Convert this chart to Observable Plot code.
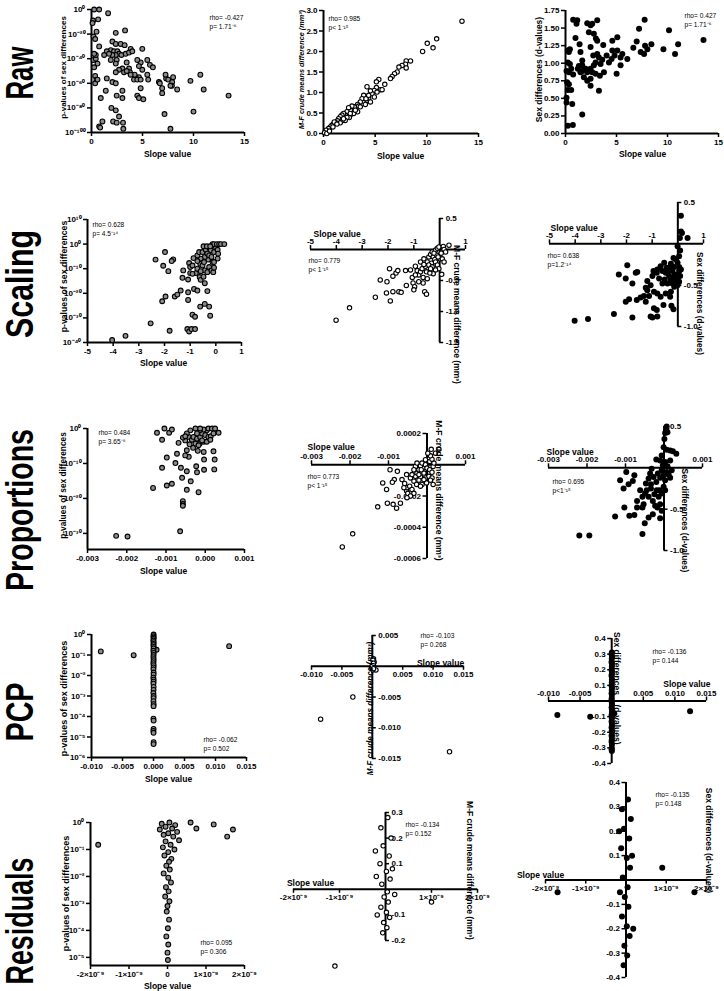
<!DOCTYPE html>
<html><head><meta charset="utf-8">
<script src="https://cdn.jsdelivr.net/npm/d3@7"></script>
<script src="https://cdn.jsdelivr.net/npm/@observablehq/plot@0.6"></script>
<style>
body{margin:0;background:#fff}
#root{position:relative;width:724px;height:991px;overflow:hidden;background:#fff}
#root svg{position:absolute}
</style></head><body><div id="root"></div>
<script>
// ---------------- DATA ----------------
const rowNames = ["Raw","Scaling","Proportions","PCP","Residuals"];
const stats = {
  rawP:["rho= -0.427","p= 1.71⁻⁶"], rawMF:["rho= 0.985","p< 1⁻¹⁵"], rawD:["rho= 0.427","p= 1.71⁻⁶"],
  scP:["rho= 0.628","p= 4.5⁻¹⁴"], scMF:["rho= 0.779","p< 1⁻¹⁵"], scD:["rho= 0.638","p=1.2⁻¹⁴"],
  prP:["rho= 0.484","p= 3.65⁻⁸"], prMF:["rho= 0.773","p< 1⁻¹⁵"], prD:["rho= 0.695","p<1⁻¹⁵"],
  pcP:["rho= -0.062","p= 0.502"], pcMF:["rho= -0.103","p= 0.268"], pcD:["rho= -0.136","p= 0.144"],
  reP:["rho= 0.095","p= 0.306"], reMF:["rho= -0.134","p= 0.152"], reD:["rho= -0.135","p= 0.148"]
};
const ticksSlopeRaw = [0,5,10,15], labSlopeRaw = ["0","5","10","15"];
const ticksPRaw = [1e-100,1e-80,1e-60,1e-40,1e-20,1], labPRaw = ["10⁻¹⁰⁰","10⁻⁸⁰","10⁻⁶⁰","10⁻⁴⁰","10⁻²⁰","10⁰"];
const ticksMFRaw = [0,0.5,1,1.5,2,2.5,3], labMFRaw = ["0.0","0.5","1.0","1.5","2.0","2.5","3.0"];
const ticksDRaw = [0,0.25,0.5,0.75,1,1.25,1.5,1.75], labDRaw = ["0.00","0.25","0.50","0.75","1.00","1.25","1.50","1.75"];
const ticksSlopeSc = [-5,-4,-3,-2,-1,0,1], labSlopeSc = ["-5","-4","-3","-2","-1","0","1"];
const ticksSlopeScX = [-5,-4,-3,-2,-1,1], labSlopeScX = ["-5","-4","-3","-2","-1","1"];
const ticksPSc = [1e-40,1e-30,1e-20,1e-10,1,1e10], labPSc = ["10⁻⁴⁰","10⁻³⁰","10⁻²⁰","10⁻¹⁰","10⁰","10¹⁰"];
const ticksMFSc = [0.5,-0.5,-1,-1.5], labMFSc = ["0.5","-0.5","-1.0","-1.5"];
const ticksDSc = [0.5,-0.5,-1], labDSc = ["0.5","-0.5","-1.0"];
const ticksSlopePr = [-0.003,-0.002,-0.001,0,0.001], labSlopePr = ["-0.003","-0.002","-0.001","0.000","0.001"];
const ticksSlopePrX = [-0.003,-0.002,-0.001,0.001], labSlopePrX = ["-0.003","-0.002","-0.001","0.001"];
const ticksPPr = [1e-30,1e-20,1e-10,1], labPPr = ["10⁻³⁰","10⁻²⁰","10⁻¹⁰","10⁰"];
const ticksMFPr = [0.0002,-0.0002,-0.0004,-0.0006], labMFPr = ["0.0002","-0.0002","-0.0004","-0.0006"];
const ticksDPr = [0.5,-0.5,-1], labDPr = ["0.5","-0.5","-1.0"];
const ticksSlopePc = [-0.010,-0.005,0,0.005,0.010,0.015], labSlopePc = ["-0.010","-0.005","0.000","0.005","0.010","0.015"];
const ticksSlopePcX = [-0.010,-0.005,0.005,0.010,0.015], labSlopePcX = ["-0.010","-0.005","0.005","0.010","0.015"];
const ticksPPc = [1e-6,1e-5,1e-4,1e-3,1e-2,1e-1,1], labPPc = ["10⁻⁶","10⁻⁵","10⁻⁴","10⁻³","10⁻²","10⁻¹","10⁰"];
const ticksMFPc = [0.005,-0.005,-0.010,-0.015], labMFPc = ["0.005","-0.005","-0.010","-0.015"];
const ticksDPc = [0.4,0.3,0.2,0.1,-0.1,-0.2,-0.3,-0.4], labDPc = ["0.4","0.3","0.2","0.1","-0.1","-0.2","-0.3","-0.4"];
const ticksSlopeRe = [-2e-9,-1e-9,0,1e-9,2e-9], labSlopeRe = ["-2×10⁻⁹","-1×10⁻⁹","0","1×10⁻⁹","2×10⁻⁹"];
const ticksSlopeReX = [-2e-9,-1e-9,1e-9,2e-9], labSlopeReX = ["-2×10⁻⁹","-1×10⁻⁹","1×10⁻⁹","2×10⁻⁹"];
const ticksPRe = [1e-5,1e-4,1e-3,1e-2,1e-1,1], labPRe = ["10⁻⁵","10⁻⁴","10⁻³","10⁻²","10⁻¹","10⁰"];
const ticksMFRe = [0.3,0.2,0.1,-0.1,-0.2], labMFRe = ["0.3","0.2","0.1","-0.1","-0.2"];
const ticksDRe = [0.4,0.3,0.2,0.1,-0.1,-0.2,-0.3,-0.4], labDRe = ["0.4","0.3","0.2","0.1","-0.1","-0.2","-0.3","-0.4"];

// [slope, value] pairs
const rawP = [[0.26,1],[0.75,1],[1.63,1e-3],[0.16,1e-9],[0.1,1e-11],[0.65,1e-8],[0.49,1e-18],[0.2,1e-22],[0.36,1e-24],[0.75,1e-30],[2.38,1e-19],[3.29,1e-17],[2.05,1e-26],[2.38,1e-28],[2.86,1e-28],[3.25,1e-29],[3.84,1e-32],[1.89,1e-33],[1.5,1e-34],[2.21,1e-34],[2.54,1e-34],[2.7,1e-36],[2.93,1e-37],[2.38,1e-37],[2.05,1e-37],[1.72,1e-36],[1.24,1e-37],[1.89,1e-41],[2.47,1e-41],[3.35,1e-36],[3.68,1e-35],[4.0,1e-34],[4.98,1e-32],[5.47,1e-41],[5.73,1e-45],[6.02,1e-47],[4.82,1e-43],[4.49,1e-41],[3.45,1e-43],[3.03,1e-48],[2.7,1e-49],[2.38,1e-51],[3.19,1e-51],[3.68,1e-48],[4.65,1e-46],[4.98,1e-49],[4.65,1e-55],[4.33,1e-55],[4.17,1e-57],[4.49,1e-57],[4.82,1e-57],[4.23,1e-53],[3.77,1e-51],[3.45,1e-50],[2.38,1e-44],[0.59,1e-44],[0.26,1e-47],[0.2,1e-41],[0.42,1e-40],[0.42,1e-37],[0.26,1e-36],[0.36,1e-54],[0.49,1e-57],[0.36,1e-60],[0.59,1e-57],[1.5,1e-56],[2.05,1e-59],[2.38,1e-60],[3.03,1e-66],[3.84,1e-53],[5.56,1e-57],[6.61,1e-59],[6.7,1e-60],[7.32,1e-56],[7.52,1e-57],[7.91,1e-59],[8.0,1e-55],[7.88,1e-62],[7.26,1e-53],[6.93,1e-64],[9.7,1e-58],[10.67,1e-53],[11.0,1e-65],[8.4,1e-65],[7.74,1e-62],[6.93,1e-68],[1.4,1e-66],[2.47,1e-70],[3.03,1e-72],[4.49,1e-70],[4.65,1e-72],[5.08,1e-73],[0.91,1e-72],[4.82,1e-64],[5.47,1e-53],[13.44,1e-70],[7.16,1e-85],[10.0,1e-83],[1.95,1e-80],[2.38,1e-82],[2.7,1e-87],[2.12,1e-91],[2.47,1e-92],[3.09,1e-92],[0.75,1e-95],[0.85,1e-96],[3.12,1e-97],[7.74,1e-97],[1.07,1e-91]];
const rawMF = [[13.4,2.74],[10.04,2.2],[10.95,2.31],[10.6,2.09],[9.59,2.0],[8.42,1.77],[8.0,1.77],[7.94,1.69],[8.0,1.6],[7.6,1.66],[7.3,1.62],[7.13,1.5],[6.87,1.46],[6.64,1.39],[6.48,1.34],[5.93,1.2],[5.35,1.32],[5.12,1.26],[5.12,1.12],[5.5,1.07],[4.92,1.05],[4.7,0.97],[4.54,1.04],[4.21,1.14],[4.92,0.89],[4.37,0.85],[4.21,0.81],[3.89,0.93],[3.73,0.85],[3.56,0.77],[3.3,0.71],[3.17,0.63],[3.3,0.53],[2.98,0.65],[2.75,0.67],[2.59,0.57],[2.43,0.63],[2.27,0.53],[2.1,0.45],[1.94,0.49],[1.78,0.45],[1.62,0.41],[1.46,0.36],[1.36,0.31],[1.2,0.26],[0.97,0.23],[0.81,0.2],[0.65,0.16],[0.49,0.12],[0.26,0.08],[0.1,0.02],[0.32,0.0],[0.58,0.06],[2.59,0.45],[2.92,0.49],[2.5,0.39],[2.27,0.39],[2.1,0.32],[1.78,0.31],[1.62,0.26],[3.08,0.57],[3.4,0.67],[4.05,0.71],[4.54,0.77],[5.18,1.01],[5.67,1.07],[1.94,0.36],[1.04,0.28],[0.91,0.16],[1.3,0.23],[3.56,0.65],[4.11,0.85],[4.37,0.93],[2.59,0.49]];
const rawD = [[0.75,1.62],[1.15,1.61],[1.08,1.56],[3.11,1.61],[2.13,1.57],[2.62,1.56],[2.46,1.54],[2.29,1.44],[2.78,1.42],[2.98,1.35],[3.11,1.32],[0.98,1.36],[1.38,1.27],[0.43,1.2],[0.23,1.18],[0.33,1.16],[1.47,1.16],[2.46,1.23],[3.7,1.26],[4.59,1.32],[5.08,1.37],[4.59,1.18],[5.08,1.18],[5.57,1.13],[5.4,1.08],[6.06,1.06],[6.65,1.22],[6.98,1.31],[7.21,1.49],[7.76,1.62],[7.8,1.25],[7.37,1.16],[7.7,1.13],[8.03,1.2],[8.42,1.27],[9.6,1.2],[10.15,1.47],[10.74,1.13],[11.04,1.27],[13.53,1.33],[0.23,1.01],[0.43,0.99],[0.56,0.92],[0.33,0.87],[0.75,0.84],[1.21,0.92],[1.64,0.97],[1.97,0.92],[2.13,0.87],[2.46,0.92],[2.78,0.97],[2.95,1.01],[3.28,1.08],[3.6,1.05],[4.03,1.11],[4.26,1.01],[4.52,1.06],[4.81,1.11],[5.4,0.97],[5.01,0.85],[2.13,0.75],[1.8,0.8],[2.46,0.78],[2.46,0.68],[3.28,0.61],[3.37,0.82],[3.77,0.87],[1.47,0.87],[1.64,0.89],[2.29,0.89],[2.62,0.87],[2.95,0.85],[1.31,0.96],[0.16,0.73],[0.33,0.7],[0.23,0.62],[0.56,0.62],[0.1,0.51],[0.1,0.44],[0.66,0.42],[1.64,0.27],[0.23,0.11],[0.72,0.12],[0.1,0.89],[3.11,1.13],[1.64,1.04],[2.72,1.11],[3.44,0.99]];
const scP = [[-4.04,1e-39],[-3.52,5e-38],[-2.54,6e-33],[-1.8,6e-36],[-1.11,3e-35],[-1.04,3e-36],[-0.95,3e-35],[-0.81,3e-35],[-0.91,2e-29],[-0.81,3e-30],[-0.22,8e-30],[-2.35,5e-7],[-1.98,6e-4],[-2.05,1.6e-9],[-1.85,1e-11],[-1.66,6e-7],[-1.72,1.3e-7],[-1.27,2e-11],[-1.3,2e-14],[-1.04,2e-8],[-1.0,5e-10],[-0.91,2e-9],[-1.0,1.6e-12],[-1.08,4e-15],[-1.37,1.3e-19],[-1.6,5e-22],[-1.5,3e-21],[-1.96,5e-22],[-2.09,6e-24],[-1.08,2.5e-20],[-1.08,2e-23],[-0.85,6e-19],[-0.72,1.3e-19],[-0.61,4e-26],[-0.43,5e-25],[-0.33,8e-20],[-0.26,4e-26],[-0.63,4e-14],[-0.59,3e-15],[-0.48,6e-14],[-0.43,1.3e-16],[-0.78,1.6e-12],[-0.72,1e-10],[-0.61,1e-8],[-0.52,2e-9],[-0.43,2e-11],[-0.33,4e-12],[-0.26,5e-10],[-0.17,2e-11],[-0.1,4e-12],[-0.07,2.5e-10],[-0.13,5e-8],[0.07,1.3e-6],[-0.3,5e-7],[-0.43,6e-6],[-0.59,1.3e-6],[-0.72,2.5e-5],[-0.65,6e-4],[-0.52,6e-4],[-0.39,5e-3],[-0.26,0.04],[-0.2,3e-3],[-0.07,6e-4],[0,0.06],[-0.13,1],[-0.07,1],[0.04,1],[0.13,1],[0.2,1],[0.33,1],[0.07,5e-3],[-0.33,1.3e-4],[-0.26,2.5e-5],[-0.48,0.13],[-0.35,0.13],[-0.22,0.13],[-0.46,5e-8],[-0.17,6e-6],[-0.72,1.3e-7],[-0.91,8e-13],[-0.07,5e-8],[0.09,1.3e-4],[-0.59,1e-11],[-0.87,2e-6]];
const scMF = [[-4.01,-1.14],[-3.49,-0.94],[-2.49,-0.77],[-1.91,-0.83],[-2.06,-0.7],[-1.81,-0.68],[-1.58,-0.68],[-1.49,-0.69],[-2.3,-0.49],[-2.04,-0.52],[-1.94,-0.31],[-1.81,-0.43],[-1.69,-0.38],[-1.62,-0.34],[-1.32,-0.34],[-1.29,-0.58],[-1.06,-0.45],[-1.03,-0.54],[-0.97,-0.6],[-1.0,-0.65],[-1.13,-0.33],[-0.94,-0.27],[-0.87,-0.34],[-0.81,-0.41],[-0.74,-0.36],[-0.68,-0.31],[-0.64,-0.45],[-0.64,-0.54],[-0.58,-0.68],[-0.51,-0.72],[-0.51,-0.36],[-0.55,-0.27],[-0.74,-0.2],[-0.61,-0.15],[-0.48,-0.2],[-0.42,-0.12],[-0.35,-0.08],[-0.29,-0.04],[-0.25,-0.12],[-0.16,-0.01],[-0.09,0.02],[-0.03,0.04],[0.14,0.05],[0.36,0.07],[0.17,0],[0.23,-0.04],[0.06,-0.06],[-0.12,-0.09],[-0.19,-0.16],[-0.32,-0.22],[-0.42,-0.25],[-0.29,-0.28],[-0.16,-0.2],[-0.09,-0.25],[-0.03,-0.31],[-0.16,-0.33],[-0.25,-0.39],[-0.38,-0.38],[0.08,-0.4],[0.01,-0.15],[0.1,-0.15],[0.17,-0.2],[-0.06,-0.12],[-0.22,-0.06],[-0.48,-0.47],[-0.81,-0.52],[-0.35,-0.31],[-0.61,-0.24],[-0.94,-0.41]];
const scD = [[-4.02,-0.93],[-3.5,-0.91],[-2.49,-0.85],[-1.77,-0.89],[-1.06,-0.88],[-0.99,-0.89],[-0.8,-0.88],[-0.82,-0.8],[-0.93,-0.78],[-0.56,-0.74],[-0.25,-0.75],[-0.17,-0.79],[-2.03,-0.7],[-1.9,-0.67],[-1.6,-0.68],[-1.45,-0.65],[-1.32,-0.63],[-1.25,-0.7],[-1.12,-0.63],[-1.19,-0.56],[-0.93,-0.58],[-0.8,-0.6],[-0.67,-0.64],[-0.47,-0.6],[-0.3,-0.64],[-0.27,-0.58],[-1.77,-0.48],[-2.03,-0.42],[-2.3,-0.37],[-1.97,-0.26],[-1.64,-0.35],[-1.58,-0.34],[-1.19,-0.45],[-1.25,-0.53],[-1.06,-0.5],[-0.99,-0.39],[-0.95,-0.33],[-0.82,-0.35],[-0.73,-0.42],[-0.6,-0.48],[-0.51,-0.43],[-0.67,-0.27],[-0.53,-0.23],[-0.43,-0.29],[-0.4,-0.35],[-0.34,-0.39],[-0.27,-0.43],[-0.21,-0.48],[-0.08,-0.46],[-0.01,-0.5],[0.05,-0.46],[0.09,-0.39],[-0.12,-0.37],[-0.21,-0.33],[-0.14,-0.28],[-0.27,-0.24],[-0.01,-0.23],[0.05,-0.28],[0.12,-0.31],[0.05,-0.33],[-0.08,-0.19],[-0.17,-0.17],[0.05,-0.15],[0.09,-0.08],[-0.01,-0.03],[0.08,0.07],[0.12,0.15],[0.16,0.13],[0.38,0.07],[0.12,0.34],[-0.34,-0.29],[-0.47,-0.35],[-0.6,-0.33],[-0.8,-0.31],[-0.4,-0.48],[-0.14,-0.52],[-0.04,-0.41],[-0.21,-0.42]];
const prP = [[-0.00227,2e-31],[-0.00198,1.3e-31],[-0.00064,4e-30],[-0.00133,1e-17],[-0.00098,5e-17],[-0.00085,1.6e-16],[-0.00059,8e-15],[-0.00047,3e-18],[-0.00037,8e-16],[-0.00017,6e-19],[-0.00057,1.6e-21],[-0.00057,2.5e-22],[-0.00057,8e-23],[-0.0011,6e-12],[-0.00098,5e-9],[-0.00076,1.3e-10],[-0.00062,6e-12],[-0.00047,6e-13],[-0.00023,1.6e-11],[-0.00021,3e-13],[-0.00003,1.6e-12],[-0.00003,1.3e-9],[-0.00004,2e-7],[-0.00019,4e-7],[-0.00042,8e-9],[-0.00051,2e-8],[-0.00072,6e-8],[-0.00047,6e-7],[-0.00031,3e-6],[-0.0004,3e-5],[-0.00025,5e-5],[-0.00014,5e-5],[-0.00004,1.6e-4],[-0.00068,8e-5],[-0.00051,4e-4],[-0.00057,2.5e-3],[-0.00042,4e-3],[-0.00034,6e-4],[-0.0003,4e-3],[-0.00021,1.3e-3],[-0.00013,4e-3],[-0.00008,0.04],[0,0.013],[0.00008,4e-3],[0.00014,6e-3],[0.00021,0.04],[0.00034,0.06],[0.00004,0.3],[-0.00004,0.5],[-0.00014,0.3],[-0.00025,1],[-0.00038,0.3],[-0.00047,0.04],[-0.00013,1],[0.00008,1],[0.00017,1],[0.00025,1],[-0.00021,0.04],[-0.00008,4e-4],[0.00004,1.6e-4],[0.00013,6e-4],[-0.00017,1.6e-5],[-0.00123,0.06],[-0.00104,1],[-0.00092,0.06],[-0.00085,0.5],[-0.0011,6e-4],[-0.00051,6e-3],[0.00021,3e-7],[0.00024,1.3e-9],[0.00023,2e-12]];
const prMF = [[-0.0022,-0.000526],[-0.00193,-0.000442],[-0.00128,-0.000269],[-0.00103,-0.000246],[-0.00088,-0.000253],[-0.00079,-0.000278],[-0.00069,-0.000246],[-0.00115,-0.000116],[-0.00105,-0.000158],[-0.00096,-0.000032],[-0.00077,-0.000042],[-0.00085,-0.000095],[-0.0009,-0.000112],[-0.00065,-0.000095],[-0.00058,-0.00012],[-0.00053,-0.000168],[-0.00052,-0.000147],[-0.00045,-0.000137],[-0.0005,-0.000183],[-0.00039,-0.000158],[-0.00034,-0.000183],[-0.00043,-0.000084],[-0.00034,-0.000105],[-0.0003,-0.000074],[-0.00027,-0.000126],[-0.00026,-0.000053],[-0.00021,-0.000032],[-0.00017,-0.000078],[-0.00013,-0.000126],[-0.00021,-0.000099],[-0.00008,-0.000053],[-0.00004,-0.000084],[-0.0001,-0.000021],[-0.00017,-0.000006],[-0.0003,-0.000011],[-0.00034,-0.000032],[-0.00026,0.000011],[-0.00013,0.000011],[-0.00004,0],[0,-0.000021],[0.00007,0.000021],[0.00007,-0.000032],[0.00013,-0.000048],[0.00016,-0.000011],[0.00018,0.000011],[0.00013,0.000036],[0.00009,0.000057],[0.00022,0.000074],[0.00011,0.000099],[0.00031,0.000099],[0.00002,0.000074],[-0.00004,0.000032],[-0.00015,-0.000032],[0.00005,-0.000074],[0.00013,-0.000084],[0.00016,-0.000126],[0.00009,-0.000099],[-0.00001,-0.000116],[-0.00039,-0.000063],[-0.00053,-0.000063],[-0.00017,-0.000137],[-0.0006,-0.000147],[-0.00021,-0.000063],[-0.00008,-0.000095],[-0.00043,-0.0002],[-0.00052,-0.000211]];
const prD = [[-0.0022,-0.82],[-0.00194,-0.82],[-0.00127,-0.59],[-0.00056,-0.8],[-0.0005,-0.67],[-0.00103,-0.48],[-0.0009,-0.58],[-0.00077,-0.57],[-0.0007,-0.48],[-0.00056,-0.48],[-0.0004,-0.6],[-0.00029,-0.56],[-0.00017,-0.48],[-0.0001,-0.61],[-0.00006,-0.52],[-0.00098,-0.05],[-0.00114,-0.15],[-0.00105,-0.25],[-0.00092,-0.2],[-0.00081,-0.16],[-0.00077,-0.09],[-0.0007,-0.4],[-0.00062,-0.27],[-0.00056,-0.35],[-0.00053,-0.44],[-0.00049,-0.31],[-0.00045,-0.27],[-0.0004,-0.35],[-0.00034,-0.25],[-0.00029,-0.4],[-0.00025,-0.32],[-0.00019,-0.27],[-0.00014,-0.35],[-0.0001,-0.44],[-0.0004,-0.13],[-0.00036,-0.07],[-0.00032,-0.01],[-0.00027,-0.11],[-0.0002,-0.17],[-0.00016,-0.07],[-0.0001,-0.12],[-0.00006,-0.03],[-0.00001,-0.09],[0.00003,-0.15],[0.00007,-0.05],[0.00012,-0.08],[0.00016,-0.12],[0.0002,-0.03],[-0.00003,0.03],[0.00003,0.07],[-0.0001,0.09],[-0.0002,0.1],[-0.00006,0.15],[-0.00001,0.25],[0.00007,0.22],[0.00016,0.21],[0.00023,0.2],[0.00032,0.17],[0.00001,0.35],[0.00003,0.42],[0.00006,0.47],[0.00007,0.5],[0.00009,0.43],[0.00016,0.09],[0.00009,0.02],[-0.00001,-0.23],[-0.00012,-0.27],[-0.00023,-0.46],[-0.00034,-0.2],[-0.00047,-0.19],[0.00003,-0.27],[-0.00006,-0.31]];
const pcP = [[-0.0085,0.15],[-0.0032,0.098],[0.0005,0.18],[0.0122,0.27],[0.00002,1],[-0.00001,0.83],[0.00003,0.71],[0.00001,0.6],[-0.00002,0.5],[0.00002,0.42],[0.00001,0.35],[-0.00001,0.3],[0.00003,0.25],[0.00001,0.21],[-0.00002,0.16],[0.00002,0.126],[0.00001,0.1],[-0.00001,0.079],[0.00002,0.063],[0.00001,0.05],[-0.00002,0.04],[0.00002,0.032],[0.00001,0.025],[-0.00001,0.02],[0.00002,0.014],[0.00001,0.011],[-0.00002,0.0079],[0.00002,0.0063],[0.00001,0.005],[-0.00001,0.004],[0.00002,0.0028],[0.00001,0.002],[-0.00002,0.0014],[0.00002,0.001],[0.00001,0.00079],[-0.00001,0.00056],[0.00002,0.0004],[0.00001,0.00032],[-0.00001,0.000079],[0.00002,0.000063],[0.00001,0.000025],[-0.00002,0.00002],[0.00001,0.000016],[0.00002,0.0000056],[0.00001,0.0000045]];
const pcMF = [[-0.0085,-0.0086],[-0.0032,-0.005],[0.0127,-0.0139],[0.0002,0.0012],[0.0003,0.0007],[0.0001,0.0003],[-0.0001,-0.0002],[0.0001,-0.0006],[0.0006,-0.0006],[0.0002,0],[0,0.00015],[0.0002,-0.0004],[0.0001,0.001],[0.0002,0.0005]];
const pcD = [[-0.0086,-0.09],[-0.0034,-0.1],[0.0004,-0.08],[0.0124,-0.065],[0.00003,0.31],[-0.00002,0.3],[0.00005,0.28],[0.00001,0.27],[-0.00003,0.25],[0.00004,0.24],[0.00002,0.22],[-0.00001,0.2],[0.00003,0.19],[0.00001,0.17],[-0.00002,0.16],[0.00004,0.14],[0.00002,0.12],[-0.00001,0.1],[0.00003,0.09],[0.00001,0.07],[-0.00002,0.05],[0.00003,0.04],[0.00001,0.02],[-0.00002,0.01],[0.00002,-0.01],[0.00004,-0.02],[-0.00001,-0.04],[0.00002,-0.05],[0.00003,-0.07],[-0.00002,-0.09],[0.00001,-0.1],[0.00003,-0.11],[-0.00001,-0.13],[0.00002,-0.14],[0.00004,-0.16],[-0.00002,-0.17],[0.00001,-0.19],[0.00003,-0.2],[-0.00001,-0.22],[0.00002,-0.23],[0.00001,-0.25],[-0.00002,-0.26],[0.00003,-0.28],[0.00001,-0.3],[-0.00001,-0.31],[0.00002,-0.32]];
const reP = [[-1.8e-9,0.15],[0.6e-9,1],[0.75e-9,0.6],[1.2e-9,0.85],[1.7e-9,0.55],[1.55e-9,0.3],[0.05e-9,1],[-0.15e-9,0.9],[0.2e-9,0.8],[-0.05e-9,0.7],[0.12e-9,0.6],[-0.2e-9,0.55],[0.25e-9,0.45],[0.02e-9,0.4],[-0.1e-9,0.35],[0.15e-9,0.3],[0.3e-9,0.22],[-0.05e-9,0.2],[0.08e-9,0.15],[-0.12e-9,0.12],[0.18e-9,0.1],[0.02e-9,0.08],[-0.08e-9,0.06],[0.1e-9,0.045],[0.04e-9,0.035],[-0.03e-9,0.025],[0.06e-9,0.018],[-0.1e-9,0.013],[0.02e-9,0.009],[0.09e-9,0.006],[-0.04e-9,0.004],[0.03e-9,0.0028],[-0.06e-9,0.0018],[0.05e-9,0.0012],[0.0,0.0008],[-0.02e-9,0.0005],[0.04e-9,0.00025],[0.01e-9,0.00012],[-0.03e-9,0.00006],[0.02e-9,0.00003],[0.0,0.000015],[0.01e-9,0.000008]];
const reMF = [[-1.1e-9,-0.3],[1.0e-9,-0.05],[0.05e-9,0.28],[-0.1e-9,0.24],[0.12e-9,0.2],[-0.05e-9,0.17],[0.08e-9,0.13],[-0.12e-9,0.1],[0.02e-9,0.07],[0.1e-9,0.04],[-0.08e-9,0.02],[0.04e-9,-0.01],[-0.03e-9,-0.03],[0.06e-9,-0.05],[-0.1e-9,-0.07],[0.02e-9,-0.09],[0.09e-9,-0.11],[-0.04e-9,-0.13],[0.03e-9,-0.15],[-0.06e-9,-0.17],[-0.2e-9,0.05],[0.2e-9,-0.02],[-0.18e-9,-0.1],[0.15e-9,0.08],[-0.22e-9,0.15]];
const reD = [[-1.7e-9,-0.05],[0.9e-9,0.05],[1.7e-9,-0.05],[0.05e-9,0.33],[-0.1e-9,0.29],[0.12e-9,0.25],[-0.05e-9,0.21],[0.08e-9,0.17],[-0.12e-9,0.13],[0.02e-9,0.09],[0.1e-9,0.05],[-0.08e-9,0.01],[0.04e-9,-0.03],[-0.03e-9,-0.07],[0.06e-9,-0.11],[-0.1e-9,-0.15],[0.02e-9,-0.19],[0.09e-9,-0.23],[-0.04e-9,-0.27],[0.03e-9,-0.31],[-0.06e-9,-0.35],[0.15e-9,0.1],[-0.15e-9,-0.05],[0.18e-9,-0.2],[-0.17e-9,0.2]];

// ---------------- RENDER ----------------
const FONT = "'Liberation Sans', Arial, Helvetica, sans-serif";
const root = document.getElementById("root");
const STYLE = {
  p:  {fill:"#8c8c8c", stroke:"#000", r:2.4, sw:1.1},
  mf: {fill:"#fff", stroke:"#000", r:2.2, sw:1.1},
  d:  {fill:"#000", stroke:"none", r:3, sw:0}
};

const lab = d3.create("svg").attr("width",724).attr("height",991).style("left","0px").style("top","0px");
const rowPos = [[73,53],[284,108],[510,162],[712,59],[921,127]];
rowNames.forEach((n,i)=>{
  lab.append("text").attr("transform",`translate(33,${rowPos[i][0]}) rotate(-90)`)
    .attr("text-anchor","middle").attr("font-family",FONT).attr("font-weight","bold")
    .attr("font-size",38).attr("textLength",rowPos[i][1]).attr("lengthAdjust","spacingAndGlyphs").text(n);
});
root.append(lab.node());

function panel(c){
  const [L,T,W,H] = c.box, [x0,x1] = c.xr, [y0,y1] = c.yr;
  const at = (px,py)=>({frameAnchor:"top-left", dx:px-x0, dy:py-y0});
  const xa = c.xa, ya = c.ya, st = STYLE[c.kind];
  const marks = [
    Plot.ruleY([xa.at], {y:d=>d, stroke:"#000", strokeWidth:2}),
    Plot.ruleX([ya.at], {x:d=>d, stroke:"#000", strokeWidth:2}),
    Plot.ruleX(xa.ticks, {x:d=>d, y1:()=>xa.at, y2:()=>xa.at, insetTop:0, insetBottom: xa.side==="below"?-4:4, stroke:"#000", strokeWidth:1.5}),
    Plot.text(xa.ticks, {x:d=>d, y:()=>xa.at, text:(d,i)=>xa.labels[i], dy: xa.side==="below"?8.5:-8, fontSize:8, fontWeight:"bold", fontFamily:FONT}),
    Plot.ruleY(ya.ticks, {y:d=>d, x1:()=>ya.at, x2:()=>ya.at, insetLeft:0, insetRight: ya.side==="left"?4:-4, stroke:"#000", strokeWidth:1.5}),
    Plot.text(ya.ticks, {x:()=>ya.at, y:d=>d, text:(d,i)=>ya.labels[i], dx: ya.side==="left"?-6:6, textAnchor: ya.side==="left"?"end":"start", fontSize:8, fontWeight:"bold", fontFamily:FONT}),
    Plot.dot(c.data, {x:d=>d[0], y:d=>d[1], r:st.r, fill:st.fill, stroke:st.stroke, strokeWidth:st.sw})
  ];
  for (const a of c.texts){
    marks.push(Plot.text([a.t], {...at(a.x,a.y), textAnchor:a.anchor||"middle", rotate:a.rot||0,
      fontSize:a.size||8.5, fontWeight:a.w||"bold", fontStyle:a.it?"italic":"normal", fontFamily:FONT}));
  }
  const svg = Plot.plot({
    width:W, height:H, marginLeft:x0-L, marginRight:L+W-x1, marginTop:y0-T, marginBottom:T+H-y1,
    x:{domain:c.xdom, axis:null},
    y:{domain:c.ydom, type:c.ylog?"log":"linear", axis:null},
    style:{background:"transparent", overflow:"visible", fontFamily:FONT},
    marks
  });
  svg.style.left = L+"px"; svg.style.top = T+"px";
  root.append(svg);
}
const rho = (s,x,y,anchor)=>[{t:s[0],x,y,anchor:anchor||"start",size:6.6,w:"normal"},{t:s[1],x,y:y+9,anchor:anchor||"start",size:6.6,w:"normal"}];
const pTitle = "p-values of sex differences", mfTitle = "M-F crude means difference (mm³)", dTitle = "Sex differences (d-values)", sv = "Slope value";

// Row 1: Raw
panel({box:[40,0,210,190], xr:[91,244], yr:[9,132], xdom:[0,15], ydom:[1e-100,1], ylog:true, kind:"p", data:rawP,
  xa:{at:1e-100, ticks:ticksSlopeRaw, labels:labSlopeRaw, side:"below"}, ya:{at:0, ticks:ticksPRaw, labels:labPRaw, side:"left"},
  texts:[{t:pTitle,x:60,y:67,rot:-90,size:8},{t:sv,x:167,y:150},...rho(stats.rawP,209,15)]});
panel({box:[260,0,230,190], xr:[323,478], yr:[10,133], xdom:[0,15], ydom:[0,3], kind:"mf", data:rawMF,
  xa:{at:0, ticks:ticksSlopeRaw, labels:labSlopeRaw, side:"below"}, ya:{at:0, ticks:ticksMFRaw, labels:labMFRaw, side:"left"},
  texts:[{t:mfTitle,x:298,y:69,rot:-90,size:7.3,it:true},{t:sv,x:400,y:152},...rho(stats.rawMF,328,16)]});
panel({box:[490,0,234,190], xr:[565,718], yr:[10,133], xdom:[0,15], ydom:[0,1.75], kind:"d", data:rawD,
  xa:{at:0, ticks:ticksSlopeRaw, labels:labSlopeRaw, side:"below"}, ya:{at:0, ticks:ticksDRaw, labels:labDRaw, side:"left"},
  texts:[{t:dTitle,x:535,y:69,rot:-90,size:8.5},{t:sv,x:642,y:150},...rho(stats.rawD,684,13)]});

// Row 2: Scaling
panel({box:[40,190,210,200], xr:[87,241], yr:[219,342], xdom:[-5,1], ydom:[1e-40,1e10], ylog:true, kind:"p", data:scP,
  xa:{at:1e-40, ticks:ticksSlopeSc, labels:labSlopeSc, side:"below"}, ya:{at:-5, ticks:ticksPSc, labels:labPSc, side:"left"},
  texts:[{t:pTitle,x:60,y:276,rot:-90,size:8.7},{t:sv,x:163,y:359},...rho(stats.scP,92,222)]});
panel({box:[250,190,240,200], xr:[310,465], yr:[218,342], xdom:[-5,1], ydom:[-1.5,0.5], kind:"mf", data:scMF,
  xa:{at:0, ticks:ticksSlopeScX, labels:labSlopeScX, side:"above"}, ya:{at:0, ticks:ticksMFSc, labels:labMFSc, side:"right"},
  texts:[{t:mfTitle,x:460,y:314,rot:90,size:8.5},{t:sv,x:313,y:230,anchor:"start"},...rho(stats.scMF,308,258)]});
panel({box:[490,190,234,200], xr:[549,703], yr:[202,326], xdom:[-5,1], ydom:[-1,0.5], kind:"d", data:scD,
  xa:{at:0, ticks:ticksSlopeScX, labels:labSlopeScX, side:"above"}, ya:{at:0, ticks:ticksDSc, labels:labDSc, side:"right"},
  texts:[{t:dTitle,x:702,y:303,rot:90,size:8.3},{t:sv,x:550,y:224,anchor:"start"},...rho(stats.scD,547,253)]});

// Row 3: Proportions
panel({box:[40,390,210,200], xr:[87,244], yr:[428,549], xdom:[-0.003,0.001], ydom:[2.5e-35,1], ylog:true, kind:"p", data:prP,
  xa:{at:2.5e-35, ticks:ticksSlopePr, labels:labSlopePr, side:"below"}, ya:{at:-0.003, ticks:ticksPPr, labels:labPPr, side:"left"},
  texts:[{t:pTitle,x:60,y:485,rot:-90,size:8.3},{t:sv,x:163,y:567},...rho(stats.prP,98,430)]});
panel({box:[250,390,240,200], xr:[311,465], yr:[433,558], xdom:[-0.003,0.001], ydom:[-0.0006,0.0002], kind:"mf", data:prMF,
  xa:{at:0, ticks:ticksSlopePrX, labels:labSlopePrX, side:"above"}, ya:{at:0, ticks:ticksMFPr, labels:labMFPr, side:"left"},
  texts:[{t:mfTitle,x:442,y:490,rot:90,size:8.6},{t:sv,x:307,y:443,anchor:"start"},...rho(stats.prMF,307,474)]});
panel({box:[490,390,234,200], xr:[548,702], yr:[426,550], xdom:[-0.003,0.001], ydom:[-1,0.5], kind:"d", data:prD,
  xa:{at:0, ticks:ticksSlopePrX, labels:labSlopePrX, side:"above"}, ya:{at:0, ticks:ticksDPr, labels:labDPr, side:"right"},
  texts:[{t:dTitle,x:687,y:520,rot:90,size:8.4},{t:sv,x:546,y:448,anchor:"start"},...rho(stats.prD,552,479)]});

// Row 4: PCP
panel({box:[40,590,210,200], xr:[91,246], yr:[634,757], xdom:[-0.010,0.015], ydom:[1e-6,1], ylog:true, kind:"p", data:pcP,
  xa:{at:1e-6, ticks:ticksSlopePc, labels:labSlopePc, side:"below"}, ya:{at:-0.010, ticks:ticksPPc, labels:labPPc, side:"left"},
  texts:[{t:pTitle,x:60,y:698,rot:-90,size:9},{t:sv,x:168,y:775},...rho(stats.pcP,203,737)]});
panel({box:[250,590,240,200], xr:[311,463], yr:[635,758], xdom:[-0.010,0.015], ydom:[-0.015,0.005], kind:"mf", data:pcMF,
  xa:{at:0, ticks:ticksSlopePcX, labels:labSlopePcX, side:"below"}, ya:{at:0, ticks:ticksMFPc, labels:labMFPc, side:"right"},
  texts:[{t:mfTitle,x:367,y:708,rot:-90,size:8.2,it:true},{t:sv,x:440,y:659},...rho(stats.pcMF,420,633)]});
panel({box:[490,590,234,200], xr:[548,706], yr:[638,763], xdom:[-0.010,0.015], ydom:[-0.4,0.4], kind:"d", data:pcD,
  xa:{at:0, ticks:ticksSlopePcX, labels:labSlopePcX, side:"above"}, ya:{at:0, ticks:ticksDPc, labels:labDPc, side:"left"},
  texts:[{t:"Sex differences",x:620,y:663,rot:90,size:8.5},{t:"(d-values)",x:620,y:724,rot:90,size:8.5},{t:sv,x:710,y:680,anchor:"end"},...rho(stats.pcD,652,649)]});

// Row 5: Residuals
panel({box:[40,790,210,201], xr:[90,244], yr:[822,965], xdom:[-2e-9,2e-9], ydom:[5e-6,1], ylog:true, kind:"p", data:reP,
  xa:{at:5e-6, ticks:ticksSlopeRe, labels:labSlopeRe, side:"below"}, ya:{at:-2e-9, ticks:ticksPRe, labels:labPRe, side:"left"},
  texts:[{t:pTitle,x:62,y:893,rot:-90,size:9},{t:sv,x:167,y:982},...rho(stats.reP,200,940)]});
panel({box:[250,790,240,201], xr:[293,477], yr:[812,940], xdom:[-2e-9,2e-9], ydom:[-0.2,0.3], kind:"mf", data:reMF,
  xa:{at:0, ticks:ticksSlopeReX, labels:labSlopeReX, side:"below"}, ya:{at:0, ticks:ticksMFRe, labels:labMFRe, side:"right"},
  texts:[{t:mfTitle,x:473,y:870,rot:90,size:8.5},{t:sv,x:310,y:879},...rho(stats.reMF,405,822)]});
panel({box:[490,790,234,201], xr:[545,706], yr:[782,977], xdom:[-2e-9,2e-9], ydom:[-0.4,0.4], kind:"d", data:reD,
  xa:{at:0, ticks:ticksSlopeReX, labels:labSlopeReX, side:"below"}, ya:{at:0, ticks:ticksDRe, labels:labDRe, side:"left"},
  texts:[{t:dTitle,x:712,y:840,rot:90,size:8.5},{t:sv,x:540,y:871},...rho(stats.reD,655,792)]});
</script></body></html>
